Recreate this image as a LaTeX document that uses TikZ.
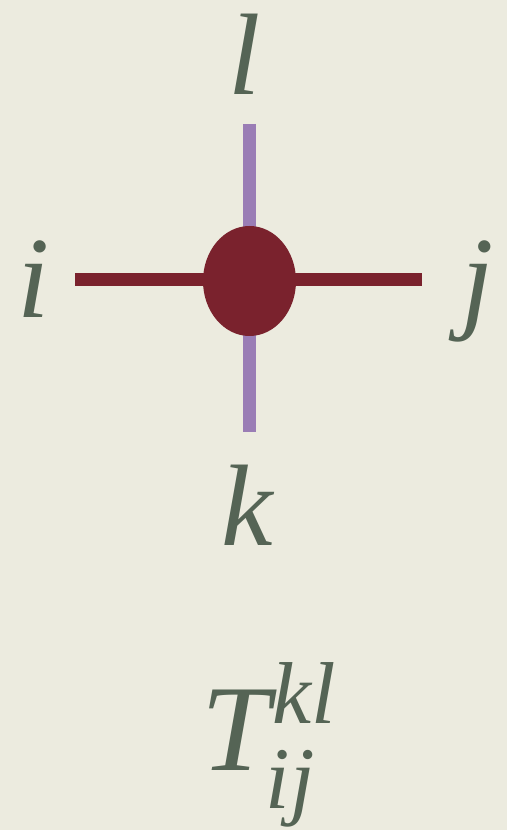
\documentclass[tikz,border=0pt]{standalone}
\usepackage{fontspec}
\setmainfont{Liberation Serif}
\usepackage{xcolor}
\usepackage{tikz}
\usetikzlibrary{shapes.geometric}
\definecolor{bgcream}{RGB}{236,235,223}
\definecolor{legred}{RGB}{122,34,45}
\definecolor{legpurple}{RGB}{154,125,181}
\definecolor{labelgreen}{RGB}{85,100,85}
\tikzset{
  indexlabel/.style={
    inner sep=0pt,
    anchor=base,
    text=labelgreen,
    font=\fontsize{66}{70}\selectfont\itshape
  },
  tensorname/.style={
    inner sep=0pt,
    anchor=base,
    text=labelgreen,
    font=\fontsize{70}{74}\selectfont\itshape
  },
  tensorscript/.style={
    inner sep=0pt,
    anchor=base,
    text=labelgreen,
    font=\fontsize{50}{54}\selectfont\itshape
  },
  hleg/.style={draw=legred, line width=13*0.02cm},
  vleg/.style={draw=legpurple, line width=13*0.02cm},
  tensorcore/.style={
    ellipse,
    fill=legred,
    inner sep=0pt,
    minimum width=93*0.02cm,
    minimum height=110*0.02cm
  }
}

\begin{document}
\begin{tikzpicture}[x=0.02cm, y=-0.02cm]
  \fill[bgcream] (0,0) rectangle (507,830);
  \useasboundingbox (0,0) rectangle (507,830);

  \coordinate (legW) at (75,280);
  \coordinate (legE) at (422,280);
  \coordinate (legN) at (249.5,124);
  \coordinate (legS) at (249.5,432);

  \draw[hleg] (legW) -- (legE);
  \draw[vleg] (legN) -- (legS);
  \node[tensorcore] (core) at (249.5,281) {};

  \node[indexlabel] (labl) at (245,95) {l};
  \node[indexlabel] (labi) at (34,318) {i};
  \node[indexlabel] (labj) at (478,318) {j};
  \node[indexlabel] (labk) at (247,545) {k};

  % tensor name with upper and lower indices
  \node[tensorname] (tens) at (236,770) {T};
  \node[tensorscript] (tensup) at (304,723) {kl};
  \node[tensorscript] (tensub) at (290,808) {ij};
\end{tikzpicture}
\end{document}
